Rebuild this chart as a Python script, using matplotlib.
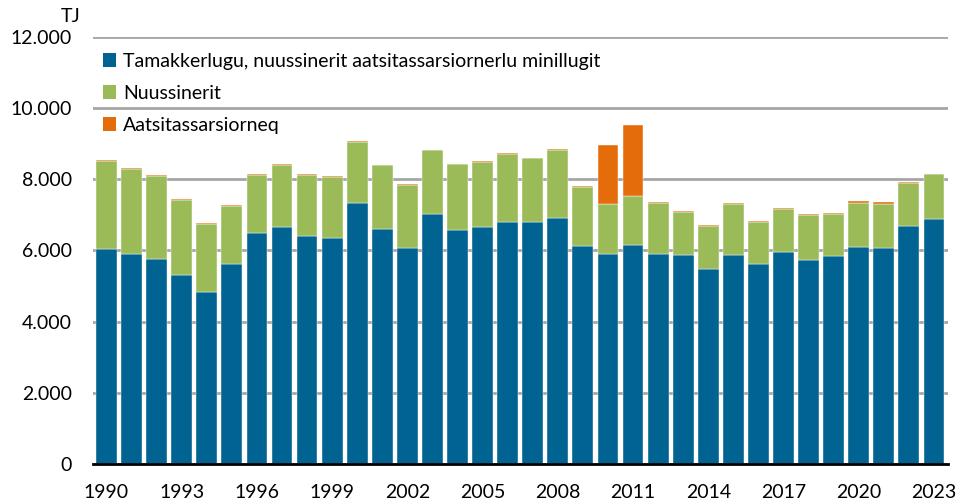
import matplotlib
matplotlib.use("Agg")
import matplotlib.pyplot as plt
from matplotlib.patches import Patch
import numpy as np

years = list(range(1990, 2024))
tamakkerlugu = [6040, 5910, 5770, 5310, 4840, 5630, 6480, 6670, 6420, 6360,
                7340, 6610, 6080, 7020, 6580, 6660, 6800, 6790, 6920, 6120,
                5890, 6150, 5910, 5880, 5480, 5880, 5630, 5950, 5740, 5850,
                6110, 6080, 6680, 6890]
totals_green = [8510, 8300, 8100, 7430, 6740, 7260, 8120, 8410, 8120, 8070,
                9060, 8390, 7850, 8810, 8420, 8490, 8710, 8590, 8830, 7780,
                7300, 7520, 7340, 7080, 6700, 7310, 6800, 7160, 7000, 7020,
                7340, 7310, 7900, 8160]
nuussinerit = [t - b for t, b in zip(totals_green, tamakkerlugu)]
aatsitassarsiorneq = [20, 20, 20, 20, 20, 20, 20, 20, 20, 20,
                      20, 20, 20, 20, 20, 20, 20, 20, 20, 20,
                      1650, 2010, 20, 40, 20, 20, 20, 30, 30, 40,
                      50, 40, 30, 0]
labels = ["Tamakkerlugu, nuussinerit aatsitassarsiornerlu minillugit",
          "Nuussinerit", "Aatsitassarsiorneq"]
colors = ["#006391", "#9bbb59", "#e46c0a"]

plt.rcParams['font.family'] = ['Lato', 'DejaVu Sans']
fig = plt.figure(figsize=(9.76, 5.04), dpi=100)
ax = fig.add_axes([0.095, 0.079, 0.876, 0.848])

x = np.arange(len(years))
w = 0.83
ax.bar(x, tamakkerlugu, w, color=colors[0], edgecolor="white", linewidth=0.3, zorder=3)
ax.bar(x, nuussinerit, w, bottom=tamakkerlugu, color=colors[1], edgecolor="white", linewidth=0.3, zorder=3)
ax.bar(x, aatsitassarsiorneq, w, bottom=totals_green, color=colors[2], edgecolor="white", linewidth=0.3, zorder=3)

ax.set_ylim(0, 12000)
ax.set_xlim(-0.55, len(years) - 0.45)
ax.set_yticks(range(0, 12001, 2000))
ax.set_yticklabels(["0", "2.000", "4.000", "6.000", "8.000", "10.000", "12.000"])
ax.set_xticks(x[::3])
ax.set_xticklabels([str(y) for y in years[::3]])
ax.tick_params(axis='both', length=0, labelsize=14, colors="black")
ax.tick_params(axis='y', pad=15)
ax.tick_params(axis='x', pad=14)
ax.yaxis.grid(True, color="#a6a6a6", linewidth=2, zorder=0)
for s in ["top", "right", "left"]:
    ax.spines[s].set_visible(False)
ax.spines["bottom"].set_color("black")
ax.spines["bottom"].set_linewidth(2)
ax.spines["bottom"].set_zorder(4)

fig.text(0.062, 0.968, "TJ", fontsize=14, ha="left", va="center")

handles = [Patch(facecolor=c, label=l) for c, l in zip(colors, labels)]
ax.legend(handles=handles, loc="upper left", bbox_to_anchor=(-0.002, 0.99),
          frameon=False, fontsize=14, handlelength=0.7, handleheight=0.7,
          handletextpad=0.35, labelspacing=0.78, borderaxespad=0.2)

fig.savefig("out.png", dpi=100)
